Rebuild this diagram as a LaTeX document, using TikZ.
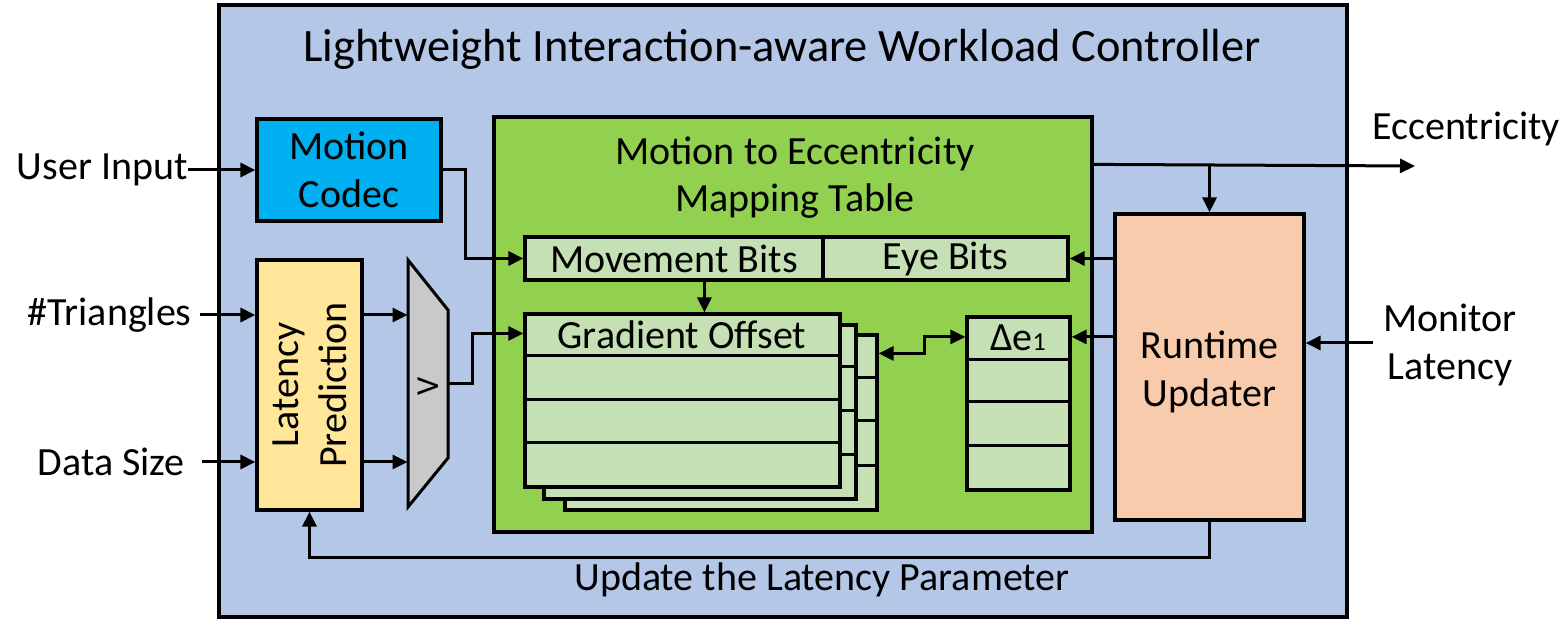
\documentclass[tikz,border=0pt]{standalone}
\usepackage{fontspec}
\setmainfont{Carlito}
\usetikzlibrary{arrows.meta,fit,calc}
\definecolor{outerblue}{HTML}{B4C7E7}
\definecolor{tabgreen}{HTML}{92D050}
\definecolor{cellgreen}{HTML}{C5E0B4}
\definecolor{codecblue}{HTML}{00B0F0}
\definecolor{latyellow}{HTML}{FFE699}
\definecolor{updorange}{HTML}{F8CBAD}
\definecolor{muxgray}{HTML}{C9C9C9}
\begin{document}
\begin{tikzpicture}[x=0.5pt,y=-0.5pt,
  box/.style={draw=black, line width=1.6pt, inner sep=0pt},
  txt/.style={font=\fontsize{20}{24}\selectfont, align=center, inner sep=0pt},
  ln/.style={line width=1.5pt},
  arr/.style={-{Triangle[length=7.5pt,width=7pt]}, line width=1.5pt},
  darr/.style={{Triangle[length=7.5pt,width=7pt]}-{Triangle[length=7.5pt,width=7pt]}, line width=1.5pt}]
\useasboundingbox (0,0) rectangle (1565,620);
% outer
\node[box, fill=outerblue, fit={(219,5)(1347,617)}] (outer) {};
\node[txt, font=\fontsize{23.2}{28}\selectfont, anchor=base] (title) at (782,62) {Lightweight Interaction-aware Workload Controller};
% motion codec
\node[box, fill=codecblue, fit={(257,119)(441,221)}] (codec) {};
\node[txt] (codectxt) at (codec.center) {Motion\\Codec};
% latency prediction
\node[box, fill=latyellow, fit={(257,260)(362,510)}] (lat) {};
\node[txt, rotate=90] (lattxt) at (lat.center) {Latency\\Prediction};
% mux
\draw[ln, fill=muxgray] (408,260) -- (448,310) -- (448,458) -- (408,507) -- cycle;
\node[inner sep=0pt, fit={(408,260)(448,507)}] (mux) {};
\node[txt, font=\fontsize{16}{18}\selectfont, rotate=90] (muxsym) at (428,386) {V};
% mapping table
\node[box, fill=tabgreen, fit={(494,117)(1092,532)}] (map) {};
\node[txt, anchor=base] (maptitle1) at (795,165) {Motion to Eccentricity};
\node[txt, anchor=base] (maptitle2) at (795,212) {Mapping Table};
\node[box, fill=cellgreen, fit={(525,237)(823,280)}] (mb) {};
\node[txt] (mbtxt) at (mb.center) {Movement Bits};
\node[box, fill=cellgreen, fit={(823,237)(1068,280)}] (eb) {};
\node[txt] (ebtxt) at (eb.center) {Eye Bits};
% gradient offset stack
\node[box, fill=cellgreen, fit={(565,335)(877,510)}] (g3) {};
\foreach \yy in {378,421,466} \draw[ln] (565,\yy) -- (877,\yy);
\node[box, fill=cellgreen, fit={(544,325)(856,499)}] (g2) {};
\foreach \yy in {367,411,455} \draw[ln] (544,\yy) -- (856,\yy);
\node[box, fill=cellgreen, fit={(525,314)(840,487)}] (g1) {};
\foreach \yy in {356,400,443} \draw[ln] (525,\yy) -- (840,\yy);
\node[txt] (gtxt) at (682,335) {Gradient Offset};
% delta e
\node[box, fill=cellgreen, fit={(967,317)(1070,490)}] (de) {};
\foreach \yy in {360,402,446} \draw[ln] (967,\yy) -- (1070,\yy);
\node[txt] (detxt) at (1018,338) {Δe{\fontsize{13}{14}\selectfont 1}};
% runtime updater
\node[box, fill=updorange, fit={(1115,214)(1304,520)}] (rt) {};
\node[txt] (rttxt) at ($(rt.center)+(0,5)$) {Runtime\\Updater};
% outside labels
\node[txt, anchor=east] (ui) at (188,170) {User Input};
\node[txt, anchor=east] (tri) at (192,315) {\#Triangles};
\node[txt, anchor=east] (ds) at (185,462) {Data Size};
\node[txt, anchor=base west] (ecc) at (1372,140) {Eccentricity};
\node[txt] (mon) at (1450,345) {Monitor\\Latency};
\node[txt] (upd) at (822,580) {Update the Latency Parameter};
% connectors
\draw[arr] (ui.east) -- (ui.east -| codec.west);
\coordinate (mbin) at ($(mb.west)+(-58,0)$);
\draw[arr] (codec.east) -| (mbin) -- (mb.west);
\draw[arr] ($(tri.east)+(8,0)$) -- (tri.east -| lat.west);
\draw[arr] ($(ds.east)+(17,0)$) -- (ds.east -| lat.west);
\draw[arr] (lat.east |- tri.east) -- (mux.west |- tri.east);
\draw[arr] (lat.east |- ds.east) -- (mux.west |- ds.east);
\coordinate (gin) at ($(g1.north west)+(0,21)$);
\draw[arr] (mux.east |- 0,384) -- ++(24,0) |- (gin);
\coordinate (mbo) at ($(mb.south west)+(181,0)$);
\draw[arr] (mbo) -- (mbo |- g1.north);
\coordinate (g3r) at ($(g3.north east)+(0,20)$);
\coordinate (dein) at ($(de.north west)+(0,21.5)$);
\draw[darr] (g3r) -- ++(46,0) |- (dein);
\coordinate (mapout) at ($(map.north east)+(0,49)$);
\coordinate (eccend) at (1415,166);
\draw[arr] (mapout) -- (eccend);
\draw[arr] (rt.north |- mapout) -- (rt.north);
\draw[arr] (rt.west |- eb.east) -- (eb.east);
\draw[arr] (rt.west |- dein) -- (de.east |- dein);
\coordinate (monin) at (1373,343);
\draw[arr] (monin) -- (monin -| rt.east);
\draw[arr] (rt.south) -- ++(0,36) -| (lat.south);
\end{tikzpicture}
\end{document}
